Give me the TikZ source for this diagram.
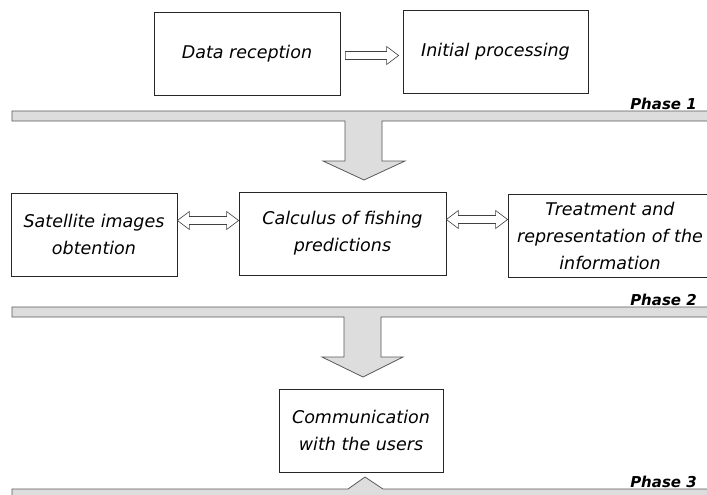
\documentclass[tikz,border=0pt]{standalone}
\usepackage{fontspec}
\setmainfont{DejaVu Sans}
\usetikzlibrary{arrows.meta, positioning, calc}

\definecolor{BarGrey}{HTML}{DDDDDD}

\begin{document}
\begin{tikzpicture}[x=1pt, y=-1pt,
    stage/.style={draw=black!85, line width=0.7pt, align=center, inner sep=0pt,
      minimum height=83pt, font=\fontsize{17.5}{27}\selectfont\itshape},
    % hollow block arrows, drawn from one box to the next
    fat/.style={draw=black!75, line width=0.6pt, fill=white, to path={
      let \p1=(\tikztostart), \p2=(\tikztotarget) in
      (\x1,\y1+4pt) -- (\x2-12pt,\y1+4pt) -- (\x2-12pt,\y1+9pt) -- (\x2,\y1)
      -- (\x2-12pt,\y1-9pt) -- (\x2-12pt,\y1-4pt) -- (\x1,\y1-4pt) -- cycle}},
    fatboth/.style={draw=black!75, line width=0.6pt, fill=white, to path={
      let \p1=(\tikztostart), \p2=(\tikztotarget) in
      (\x1,\y1) -- (\x1+12pt,\y1+9pt) -- (\x1+12pt,\y1+4pt) -- (\x2-12pt,\y1+4pt)
      -- (\x2-12pt,\y1+9pt) -- (\x2,\y1) -- (\x2-12pt,\y1-9pt) -- (\x2-12pt,\y1-4pt)
      -- (\x1+12pt,\y1-4pt) -- (\x1+12pt,\y1-9pt) -- cycle}},
    bar/.style={draw=black!65, line width=0.8pt, fill=BarGrey},
    phase/.style={anchor=base east, inner sep=0pt, font=\fontsize{15}{17}\selectfont\bfseries\itshape}]
  \useasboundingbox (0,0) rectangle (707,495);
  \clip (0,0) rectangle (707,495);

  % Phase 1
  \node[stage, minimum width=186pt] (recep) at (247,53.5) {Data reception};
  \node[stage, minimum width=185pt] (initproc) at (495.5,52) {Initial processing};
  \draw[fat] ([shift={(5pt,-2pt)}]recep.east) to ([shift={(-4pt,-2pt)}]recep.east -| initproc.west);
  \draw[bar] (12,111) -- (720,111) -- (720,121) -- (382,121) -- (382,161) -- (405,161)
    -- (364,180) -- (323,161) -- (345,161) -- (345,121) -- (12,121) -- cycle;
  \node[phase] (ph1) at (697,109.5) {Phase 1};

  % Phase 2
  \node[stage, minimum width=166pt] (satimg) at (94,234.5) {Satellite images\\obtention};
  \node[stage, minimum width=207pt] (calculus) at (342.5,233.5) {Calculus of fishing\\predictions};
  \node[stage, minimum width=204pt] (treat) at (610,235.5) {Treatment and\\representation of the\\information};
  \draw[fatboth] ([yshift=14pt]satimg.east) to ([yshift=14pt]satimg.east -| calculus.west);
  \draw[fatboth] ([yshift=14pt]calculus.east) to ([yshift=14pt]calculus.east -| treat.west);
  \draw[bar] (12,307) -- (720,307) -- (720,317) -- (381,317) -- (381,357) -- (403,357)
    -- (363,377) -- (322,357) -- (344,357) -- (344,317) -- (12,317) -- cycle;
  \node[phase] (ph2) at (697,305.5) {Phase 2};

  % Phase 3
  \node[stage, minimum width=164pt] (comm) at (361,430.5) {Communication\\with the users};
  \draw[bar] (12,489) -- (348,489) -- (365,477) -- (383,489) -- (720,489) -- (720,510)
    -- (12,510) -- cycle;
  \node[phase] (ph3) at (697,487.5) {Phase 3};
\end{tikzpicture}
\end{document}
